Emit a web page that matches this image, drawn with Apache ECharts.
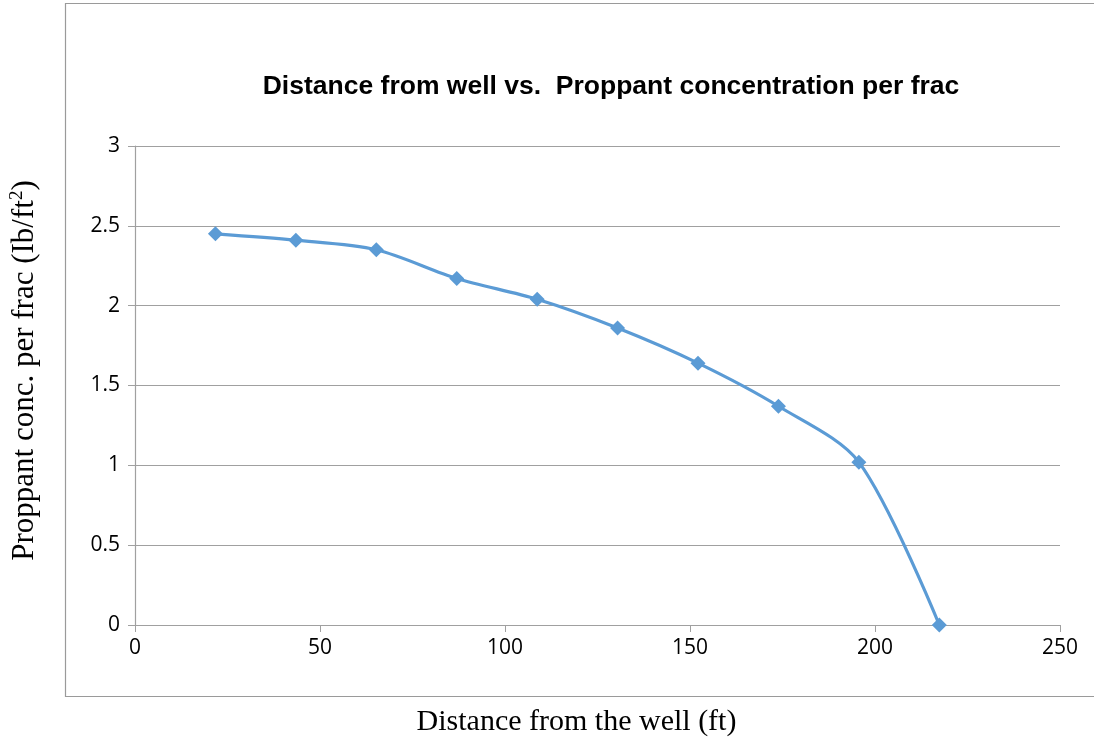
<!DOCTYPE html>
<html>
<head>
<meta charset="utf-8">
<script src="https://cdn.jsdelivr.net/npm/echarts@6/dist/echarts.min.js"></script>
<style>
  html, body { margin: 0; padding: 0; background: #fff; }
  #chart { width: 1094px; height: 742px; }
</style>
</head>
<body>
<div id="chart"></div>
<script>
var distance = [21.74, 43.48, 65.22, 86.96, 108.7, 130.43, 152.17, 173.91, 195.65, 217.39];
var concentration = [2.45, 2.41, 2.35, 2.17, 2.04, 1.86, 1.64, 1.37, 1.02, 0];

var dom = document.getElementById("chart");
var myChart = echarts.init(dom, null, { renderer: "canvas" });

var points = distance.map(function (d, i) { return [d, concentration[i]]; });
var tickFont = "Open Sans";
var serif = "Liberation Serif";

var option = {
  animation: false,
  backgroundColor: "#fff",
  title: {
    text: "Distance from well vs.  Proppant concentration per frac",
    left: 606,
    top: 68,
    textAlign: "center",
    textStyle: { fontFamily: "Liberation Sans", fontWeight: "bold", fontSize: 26.5, color: "#000" }
  },
  graphic: [
    {
      type: "rect",
      shape: { x: 65.5, y: 3.5, width: 1040, height: 693 },
      style: { fill: "none", stroke: "#9a9a9a", lineWidth: 1.2 },
      silent: true
    }
  ],
  grid: { left: 132, right: 34, top: 146, bottom: 114 },
  xAxis: {
    type: "value",
    min: 0,
    max: 250,
    interval: 50,
    name: "Distance from the well (ft)",
    nameLocation: "middle",
    nameGap: 82,
    nameTextStyle: { fontFamily: serif, fontSize: 30, color: "#000", padding: [0, 42, 0, 0] },
    axisLine: { show: true, lineStyle: { color: "#a0a0a0", width: 1.2 } },
    axisTick: { show: true, inside: false, length: 7, lineStyle: { color: "#a0a0a0" } },
    axisLabel: { fontFamily: tickFont, fontSize: 21, color: "#000", margin: 13 },
    splitLine: { show: false }
  },
  yAxis: {
    type: "value",
    min: 0,
    max: 3,
    interval: 0.5,
    name: "{t|Proppant conc. per frac (Ib/ft}{s|2}{t|)}",
    nameLocation: "middle",
    nameRotate: 90,
    nameGap: 94,
    nameTextStyle: {
      padding: [0, 0, 0, 30],
      rich: {
        t: { fontFamily: serif, fontSize: 31, color: "#000" },
        s: { fontFamily: serif, fontSize: 19, color: "#000", verticalAlign: "top", padding: [0, 0, 14, 0] }
      }
    },
    axisLine: { show: true, lineStyle: { color: "#a0a0a0", width: 1.2 } },
    axisTick: { show: true, inside: false, length: 7, lineStyle: { color: "#a0a0a0" } },
    axisLabel: { fontFamily: tickFont, fontSize: 21, color: "#000", margin: 15 },
    splitLine: { show: true, lineStyle: { color: "#a0a0a0", width: 1.2 } }
  },
  series: [
    {
      type: "line",
      data: points,
      smooth: 0.3,
      symbol: "diamond",
      symbolSize: 15,
      lineStyle: { color: "#5b9bd5", width: 3.2 },
      itemStyle: { color: "#5b9bd5" }
    }
  ]
};

myChart.setOption(option);
window.addEventListener("resize", myChart.resize);
</script>
</body>
</html>
